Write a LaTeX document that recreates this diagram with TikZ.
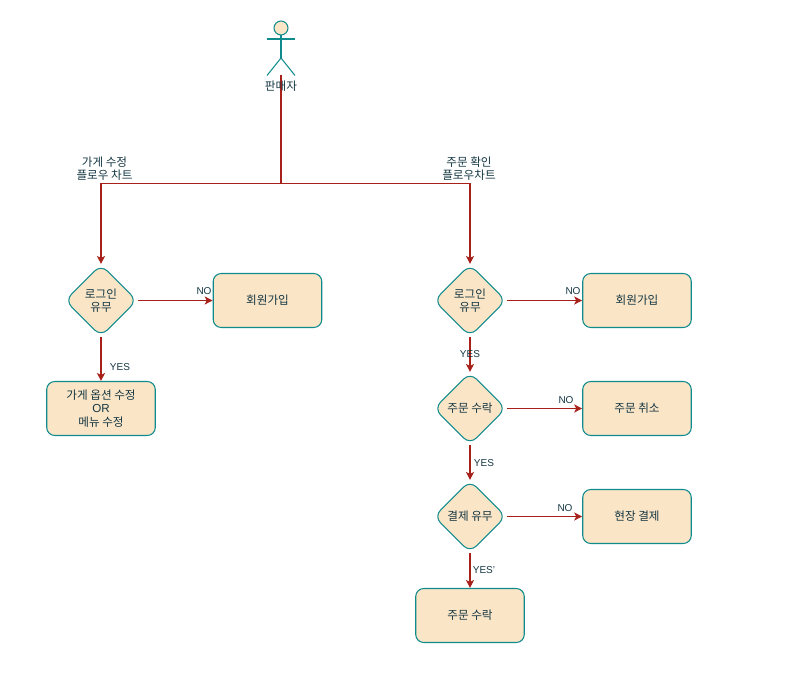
\documentclass[tikz,border=0pt]{standalone}
\usepackage{fontspec}
\setmainfont{Liberation Sans}
\newfontfamily\krfont{Noto Sans CJK KR}
\usetikzlibrary{arrows.meta,shapes.geometric}
\definecolor{boxfill}{HTML}{FAE5C7}
\definecolor{boxline}{HTML}{0F8B8D}
\definecolor{flowline}{HTML}{A8201A}
\definecolor{textcol}{HTML}{143642}
\tikzset{
    krtext/.style={text=textcol, align=center, inner sep=0pt, font=\krfont\fontsize{8.7}{9.9}\selectfont},
    flowbox/.style={krtext, draw=boxline, fill=boxfill, line width=0.8pt, rounded corners=6pt,
        minimum width=81.4pt, minimum height=40.5pt},
    decision/.style={krtext, shape=diamond, aspect=1, draw=boxline, fill=boxfill, line width=0.8pt,
        rounded corners=6.5pt, minimum width=54pt, minimum height=54pt},
    branch/.style={text=textcol, inner sep=0pt, font=\fontsize{7.5}{9}\selectfont},
    flow/.style={draw=flowline, line width=0.8pt},
    flowarrow/.style={flow, -{Stealth[length=6pt,width=6pt,inset=1.5pt]}}
}
\begin{document}
\begin{tikzpicture}[x=0.75pt,y=-0.75pt]
    \useasboundingbox (0,0) rectangle (786,677);

    %Actor
    \draw[draw=boxline, fill=boxfill, line width=0.8pt] (281,28) circle (7);
    \draw[draw=boxline, line width=0.8pt] (281,35) -- (281,58);
    \draw[draw=boxline, line width=0.8pt] (267,39) -- (295,39);
    \draw[draw=boxline, line width=0.8pt] (267,75.5) -- (281,58) -- (295,75.5);
    \coordinate (actorbase) at (281,75);
    \coordinate (busmid) at (281,183.5);

    %Left flow
    \node[decision] (loginL) at (101,300.5) {로그인\\유무};
    \node[flowbox] (joinL) at (267.5,300.5) {회원가입};
    \node[flowbox] (editL) at (101,408.5) {가게 옵션 수정\\{\rmfamily OR}\\메뉴 수정};

    %Right flow
    \node[decision] (loginR) at (470,300.5) {로그인\\유무};
    \node[decision] (acceptR) at (470,408.5) {주문 수락};
    \node[decision] (payR) at (470,516.5) {결제 유무};
    \node[flowbox] (joinR) at (637,300.5) {회원가입};
    \node[flowbox] (cancelR) at (637,408.5) {주문 취소};
    \node[flowbox] (onsiteR) at (637,516.5) {현장 결제};
    \node[flowbox] (doneR) at (470,615.5) {주문 수락};

    %Lines
    \draw[flow] (actorbase) -- (busmid);
    \draw[flowarrow] (busmid) -| (loginL.north);
    \draw[flowarrow] (busmid) -| (loginR.north);
    \draw[flowarrow] (loginL) -- (joinL);
    \draw[flowarrow] (loginL) -- (editL);
    \draw[flowarrow] (loginR) -- (joinR);
    \draw[flowarrow] (loginR) -- (acceptR);
    \draw[flowarrow] (acceptR) -- (cancelR);
    \draw[flowarrow] (acceptR) -- (payR);
    \draw[flowarrow] (payR) -- (onsiteR);
    \draw[flowarrow] (payR) -- (doneR);

    %Labels
    \node[krtext] (seller) at (281,86) {판매자};
    \node[krtext] (titleL) at (104.5,169) {가게 수정\\플로우 차트};
    \node[krtext] (titleR) at (469,169) {주문 확인\\플로우차트};
    \node[branch] (noA) at (204,291) {NO};
    \node[branch] (yesA) at (120,367) {YES};
    \node[branch] (noB) at (573,291) {NO};
    \node[branch] (yesB) at (470,354) {YES};
    \node[branch] (noC) at (566,400) {NO};
    \node[branch] (yesC) at (484,463) {YES};
    \node[branch] (noD) at (565,508) {NO};
    \node[branch] (yesD) at (484,570) {YES'};
\end{tikzpicture}
\end{document}
